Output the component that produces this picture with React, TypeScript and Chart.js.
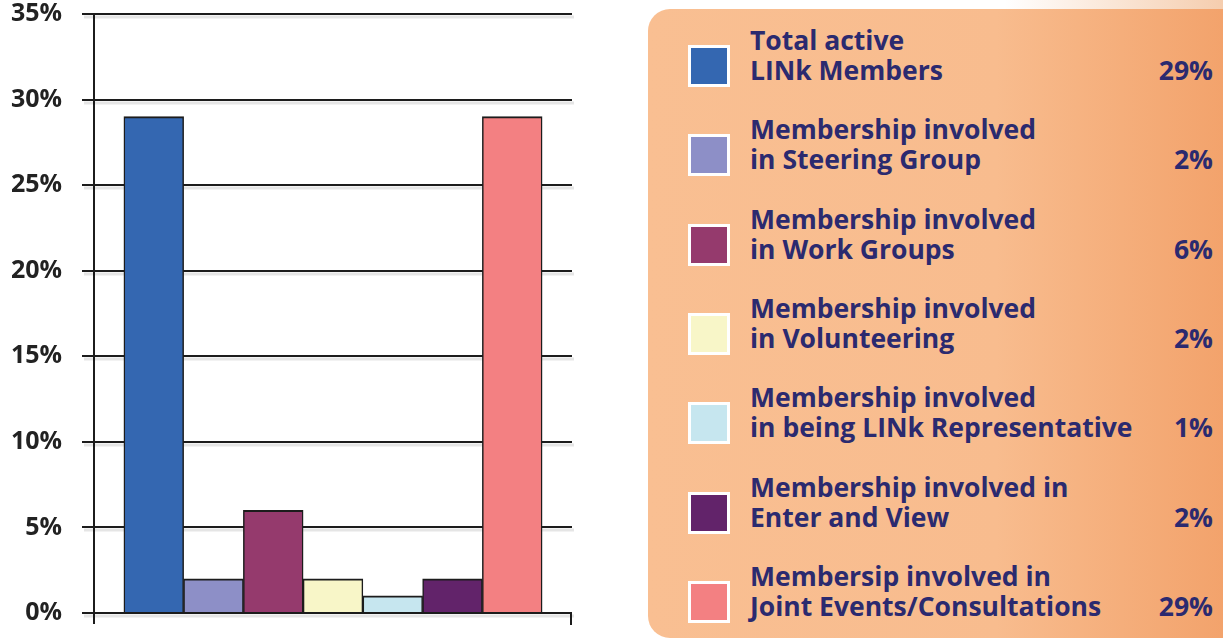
import React, { useEffect, useRef } from 'react';
import { Chart, registerables } from 'chart.js';

Chart.register(...registerables);

// ---- data ----
const categoryLines: [string, string][] = [
  ['Total active', 'LINk Members'],
  ['Membership involved', 'in Steering Group'],
  ['Membership involved', 'in Work Groups'],
  ['Membership involved', 'in Volunteering'],
  ['Membership involved', 'in being LINk Representative'],
  ['Membership involved in', 'Enter and View'],
  ['Membersip involved in', 'Joint Events/Consultations'],
];
const values = [29, 2, 6, 2, 1, 2, 29];
const barColors = ['#3467B1', '#8D8FC7', '#953A6D', '#F8F6C8', '#C6E6EF', '#62236A', '#F38082'];
const yMin = 0;
const yMax = 35;
const yStep = 5;

const LINE = '#1c1c1c';
const NAVY = '#2B2A6F';
const FONT = '"Open Sans", sans-serif';

const gridShadow = {
  id: 'gridShadow',
  beforeDatasetsDraw(chart: any) {
    const { ctx, chartArea, scales } = chart;
    const y = scales.y;
    ctx.save();
    ctx.strokeStyle = 'rgba(0,0,0,0.10)';
    ctx.lineWidth = 3;
    for (const t of y.ticks) {
      const py = Math.round(y.getPixelForValue(t.value)) + 3;
      ctx.beginPath();
      ctx.moveTo(chartArea.left - 10, py);
      ctx.lineTo(chartArea.right + 2, py);
      ctx.stroke();
    }
    ctx.restore();
  },
};

const axisExtras = {
  id: 'axisExtras',
  afterDraw(chart: any) {
    const { ctx, chartArea } = chart;
    ctx.save();
    ctx.strokeStyle = LINE;
    ctx.lineWidth = 2;
    ctx.beginPath();
    ctx.moveTo(chartArea.left, chartArea.bottom);
    ctx.lineTo(chartArea.left, chartArea.bottom + 11);
    ctx.moveTo(chartArea.right - 1, chartArea.bottom);
    ctx.lineTo(chartArea.right - 1, chartArea.bottom + 12);
    ctx.stroke();
    ctx.restore();
  },
};

function BarChart() {
  const ref = useRef<HTMLCanvasElement>(null);
  useEffect(() => {
    if (!ref.current) return;
    const chart = new Chart(ref.current, {
      type: 'bar',
      data: {
        datasets: [
          {
            data: values.map((v, i) => ({ x: i, y: v })),
            backgroundColor: barColors,
            borderColor: LINE,
            borderWidth: { top: 2, left: 1.5, right: 1.5, bottom: 0 },
            barPercentage: 1,
            categoryPercentage: 1,
          },
        ],
      },
      options: {
        animation: false,
        responsive: false,
        maintainAspectRatio: false,
        layout: { padding: { top: 14, bottom: 25, right: 48, left: 0 } },
        plugins: { legend: { display: false }, tooltip: { enabled: false } },
        scales: {
          x: {
            type: 'linear',
            min: -1,
            max: 7,
            offset: false,
            display: false,
            grid: { offset: false },
            ticks: { stepSize: 1 },
          },
          y: {
            min: yMin,
            max: yMax,
            afterFit(scale: any) {
              scale.width = 94;
              scale.paddingTop = 0;
              scale.paddingBottom = 0;
            },
            ticks: {
              stepSize: yStep,
              padding: 20,
              color: '#222',
              font: { family: FONT, weight: 'bold', size: 25 },
              callback: (v: any) => `${v}%`,
            },
            grid: {
              color: LINE,
              lineWidth: 2,
              tickLength: 12,
              drawTicks: true,
            },
            border: { display: true, color: LINE, width: 2 },
          },
        },
      },
      plugins: [gridShadow, axisExtras],
    });
    return () => chart.destroy();
  }, []);
  return (
    <canvas
      ref={ref}
      width={620}
      height={638}
      style={{ position: 'absolute', left: 0, top: 0, width: 620, height: 638 }}
    />
  );
}

function Legend() {
  const rowStep = 89.3;
  return (
    <>
      <div
        style={{
          position: 'absolute',
          left: 648,
          top: 0,
          width: 575,
          height: 10,
          background: 'linear-gradient(90deg, #ffffff 0%, #ffffff 62%, #F5CDAE 100%)',
        }}
      />
      <div
        style={{
          position: 'absolute',
          left: 648,
          top: 9,
          width: 600,
          height: 629,
          borderRadius: 22,
          background: 'linear-gradient(90deg, #F9BF92 0%, #F8BC8E 58%, #F2A068 100%)',
          fontFamily: FONT,
          fontWeight: 700,
          color: NAVY,
          fontSize: 26.5,
          lineHeight: '30px',
        }}
      >
        {categoryLines.map((lines, i) => {
          const top = 16 + i * rowStep;
          return (
            <React.Fragment key={i}>
              <div
                style={{
                  position: 'absolute',
                  left: 40,
                  top: top + 20,
                  width: 42,
                  height: 42,
                  boxSizing: 'border-box',
                  border: '3px solid #fff',
                  background: barColors[i],
                }}
              />
              <div style={{ position: 'absolute', left: 102, top, whiteSpace: 'nowrap' }}>
                {lines[0]}
                <br />
                {lines[1]}
              </div>
              <div
                style={{
                  position: 'absolute',
                  right: 35,
                  top: top + 30,
                  whiteSpace: 'nowrap',
                  textAlign: 'right',
                }}
              >
                {`${values[i]}%`}
              </div>
            </React.Fragment>
          );
        })}
      </div>
    </>
  );
}

export default function App() {
  return (
    <div
      style={{
        position: 'absolute',
        left: 0,
        top: 0,
        width: 1223,
        height: 638,
        overflow: 'hidden',
        background: '#fff',
      }}
    >
      <BarChart />
      <Legend />
    </div>
  );
}
